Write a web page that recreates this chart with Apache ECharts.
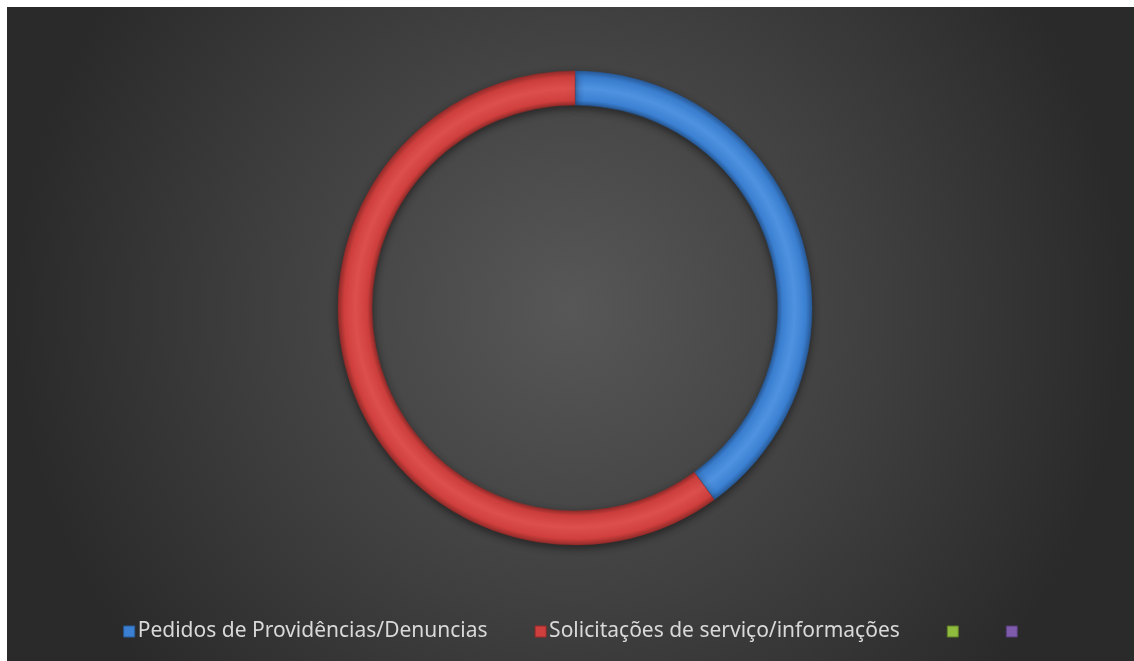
<!DOCTYPE html>
<html>
<head>
<meta charset="utf-8">
<script src="https://cdn.jsdelivr.net/npm/echarts@6/dist/echarts.min.js"></script>
<style>
  html, body { margin: 0; padding: 0; background: #ffffff; }
  #chart { position: absolute; left: 7px; top: 7px; width: 1127px; height: 654px; }
</style>
</head>
<body>
<div id="chart"></div>
<script>
// dados do gráfico
const categorias = ['Pedidos de Providências/Denuncias', 'Solicitações de serviço/informações', ' ', '  '];
const valores = [40, 60, 0, 0];
const cores = ['#3b80d2', '#cf3f3d', '#8fbb3e', '#7e5cab'];
const coresEscuras = ['#285c9c', '#952c2a', '#5f7f26', '#563d7a'];
const coresClaras = ['#4f92e0', '#dc4f4d', '#a6cf55', '#9577c2'];

const cx = 568, cy = 301, rIn = 203, rOut = 237;

// gradiente radial global para dar o efeito de relevo no anel
function bisel(i) {
  const a = rIn / rOut;
  return {
    type: 'radial', x: cx, y: cy, r: rOut, global: true,
    colorStops: [
      { offset: 0, color: coresEscuras[i] },
      { offset: a, color: coresEscuras[i] },
      { offset: a + 0.02, color: cores[i] },
      { offset: a + 0.07, color: coresClaras[i] },
      { offset: 0.975, color: cores[i] },
      { offset: 1, color: coresEscuras[i] }
    ]
  };
}

const chart = echarts.init(document.getElementById('chart'));
chart.setOption({
  animation: false,
  backgroundColor: {
    type: 'radial', x: 0.5, y: 0.46, r: 0.85,
    colorStops: [
      { offset: 0, color: '#575757' },
      { offset: 0.55, color: '#3f3f3f' },
      { offset: 1, color: '#2a2a2a' }
    ]
  },
  legend: {
    bottom: 14,
    left: 'center',
    itemWidth: 11,
    itemHeight: 11,
    itemGap: 47,
    icon: 'rect',
    formatter: name => name.trim(),
    textStyle: { color: '#d9d9d9', fontSize: 21, fontFamily: 'Noto Sans', padding: [0, 0, 0, -2] },
    data: categorias.map((n, i) => ({ name: n, itemStyle: { color: cores[i], borderColor: coresEscuras[i], borderWidth: 1 } }))
  },
  series: [{
    type: 'pie',
    center: [cx, cy],
    radius: [rIn, rOut],
    startAngle: 90,
    clockwise: true,
    label: { show: false },
    labelLine: { show: false },
    emphasis: { disabled: true },
    data: categorias.map((n, i) => ({
      name: n,
      value: valores[i],
      itemStyle: {
        color: bisel(i),
        borderColor: coresEscuras[i],
        borderWidth: valores[i] ? 0.5 : 0,
        shadowBlur: 8,
        shadowOffsetY: 3,
        shadowColor: 'rgba(0,0,0,0.5)'
      }
    }))
  }]
});
</script>
</body>
</html>
